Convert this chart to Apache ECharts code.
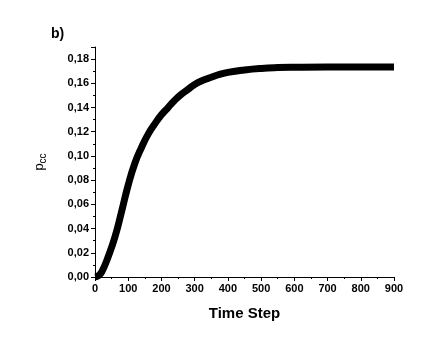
<!DOCTYPE html>
<html>
<head>
<meta charset="utf-8">
<script src="https://cdn.jsdelivr.net/npm/echarts@6/dist/echarts.min.js"></script>
<style>
  html, body { margin: 0; padding: 0; background: #fff; }
  #chart { width: 426px; height: 343px; }
</style>
</head>
<body>
<div id="chart"></div>
<script>
// time steps and p_cc values
var timeSteps = [0, 10, 20, 40, 60, 80, 100, 120, 140, 160, 180, 200, 220, 240, 260, 280, 300, 325, 350, 375, 400, 450, 500, 550, 600, 700, 800, 900];
var pcc = [0.000, 0.001, 0.004, 0.017, 0.033, 0.054, 0.076, 0.094, 0.107, 0.118, 0.1265, 0.134, 0.140, 0.146, 0.151, 0.155, 0.159, 0.1625, 0.165, 0.1673, 0.169, 0.171, 0.1723, 0.173, 0.1733, 0.1735, 0.1735, 0.1735];
var yTickMax = 0.18;

var points = [];
for (var i = 0; i < timeSteps.length; i++) {
  points.push([timeSteps[i], pcc[i]]);
}

var chart = echarts.init(document.getElementById('chart'));

var labelFont = { color: '#000', fontFamily: 'Liberation Sans, Arial', fontWeight: 'bold', fontSize: 11 };

chart.setOption({
  animation: false,
  backgroundColor: '#fff',
  title: {
    text: 'b)',
    left: 46,
    top: 22,
    textStyle: { fontFamily: 'Liberation Sans, Arial', fontWeight: 'bold', fontSize: 14, color: '#000' }
  },
  grid: { left: 95, right: 32, top: 47, bottom: 66 },
  xAxis: {
    type: 'value',
    min: 0,
    max: 900,
    interval: 100,
    name: 'Time Step',
    nameLocation: 'middle',
    nameGap: 29,
    nameTextStyle: { fontFamily: 'Liberation Sans, Arial', fontWeight: 'bold', fontSize: 15, color: '#000' },
    axisLine: { lineStyle: { color: '#000', width: 1 } },
    axisTick: { inside: false, length: 4, lineStyle: { color: '#000' } },
    minorTick: { show: true, splitNumber: 2, length: 2, lineStyle: { color: '#000' } },
    splitLine: { show: false },
    axisLabel: Object.assign({ margin: 6 }, labelFont)
  },
  yAxis: {
    type: 'value',
    min: 0,
    max: 0.19,
    interval: 0.02,
    name: '{p|p}{s|cc}',
    nameLocation: 'middle',
    nameRotate: 90,
    nameGap: 47,
    nameTextStyle: {
      rich: {
        p: { fontFamily: 'Liberation Sans, Arial', fontSize: 13, color: '#000' },
        s: { fontFamily: 'Liberation Sans, Arial', fontSize: 10, color: '#000', padding: [7, 0, 0, 0] }
      }
    },
    axisLine: { show: true, lineStyle: { color: '#000', width: 1 } },
    axisTick: { show: true, inside: false, length: 4, lineStyle: { color: '#000' } },
    minorTick: { show: true, splitNumber: 2, length: 2, lineStyle: { color: '#000' } },
    splitLine: { show: false },
    axisLabel: Object.assign({
      margin: 6,
      formatter: function (v) {
        if (v > yTickMax + 1e-9) return '';
        return v.toFixed(2).replace('.', ',');
      }
    }, labelFont)
  },
  series: [{
    type: 'line',
    data: points,
    smooth: true,
    showSymbol: false,
    lineStyle: { color: '#000', width: 7 }
  }]
});
</script>
</body>
</html>
